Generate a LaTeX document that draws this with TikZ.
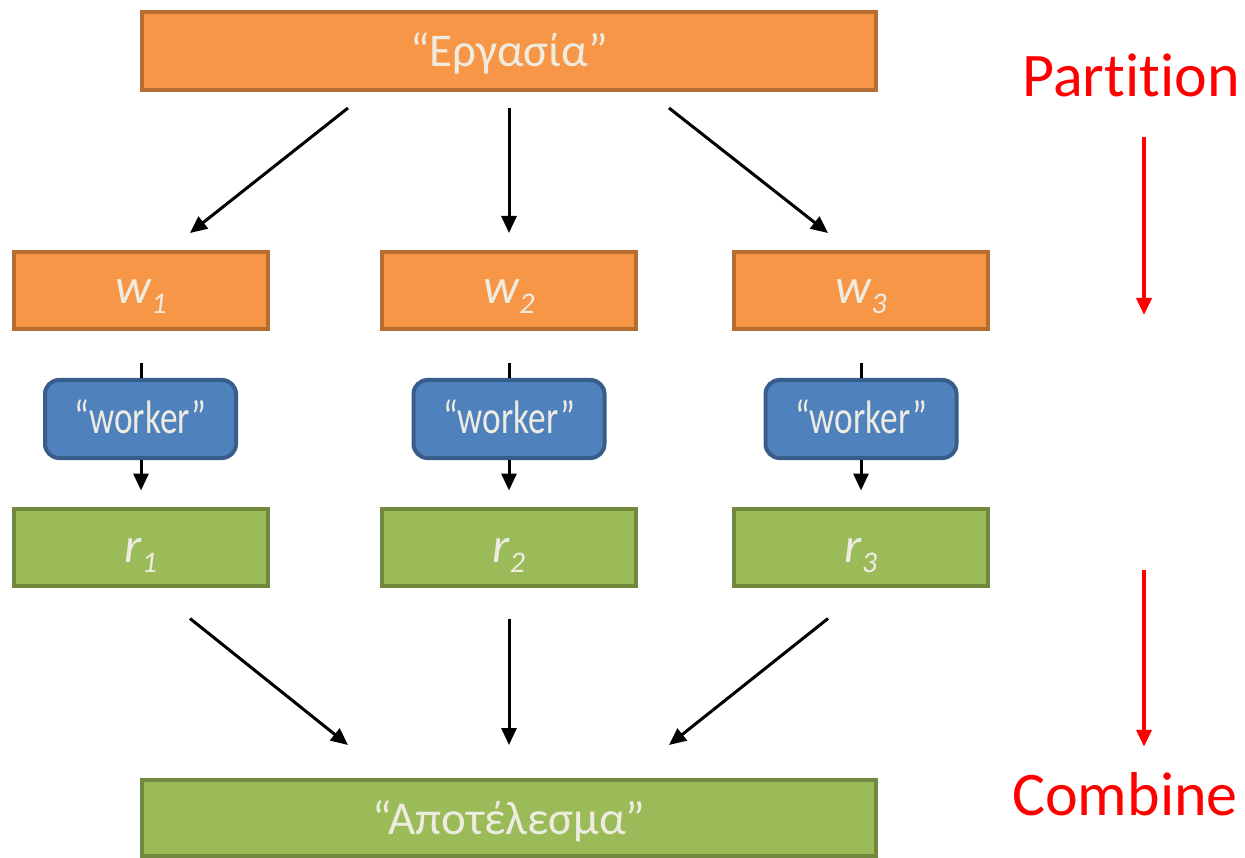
\documentclass[tikz,border=0pt]{standalone}
\usepackage{fontspec}
\setmainfont{Carlito}[Ligatures={NoCommon}]
\usetikzlibrary{arrows.meta}
\definecolor{orfill}{HTML}{F79646}
\definecolor{ordraw}{HTML}{B66D31}
\definecolor{blfill}{HTML}{4F81BD}
\definecolor{bldraw}{HTML}{385D8A}
\definecolor{grfill}{HTML}{9BBB59}
\definecolor{grdraw}{HTML}{71893F}
\definecolor{txt}{HTML}{EEECE1}
\definecolor{redc}{HTML}{FF0000}
\newcommand{\idx}[3]{{\itshape #1\raisebox{-#3}{\fontsize{30}{30}\selectfont\itshape #2}}}
\tikzset{
  box/.style={draw, line width=4pt, text=txt, inner sep=0pt, minimum width=254pt, minimum height=77pt},
  obox/.style={box, fill=orfill, draw=ordraw},
  gbox/.style={box, fill=grfill, draw=grdraw},
  wbox/.style={box, fill=blfill, draw=bldraw, rounded corners=14pt, minimum width=191pt, minimum height=78pt,
     text height=30pt, text depth=0pt},
  wide/.style={minimum width=734pt, minimum height=78pt},
  big/.style={font=\fontsize{50}{50}\selectfont, text depth=0pt},
  wk/.style={font=\fontsize{47}{47}\selectfont},
  gr/.style={font=\fontsize{47}{47}\selectfont, text depth=0pt},
  arr/.style={line width=3pt, -{Triangle[length=17pt,width=15pt]}},
  rarr/.style={line width=3.8pt, draw=redc, -{Triangle[length=17pt,width=15pt]}},
  lbl/.style={text=redc, inner sep=0pt, font=\fontsize{62}{62}\selectfont}
}
\begin{document}
\begin{tikzpicture}[x=1pt,y=-1pt]
\useasboundingbox (0,0) rectangle (1245,858);
% top and bottom
\node[obox, wide, gr, text height=32pt] (top) at (509,51) {“Εργασία”};
\node[gbox, wide, gr, minimum height=76pt, text height=32pt] (bot) at (509,818) {“Αποτέλεσμα”};
% w boxes
\node[obox, big, text height=26pt] (w1) at (141,290.5) {\idx{w}{1}{10pt}};
\node[obox, big, text height=26pt] (w2) at (509,290.5) {\idx{w}{2}{10pt}};
\node[obox, big, text height=26pt] (w3) at (861,290.5) {\idx{w}{3}{10pt}};
% worker boxes
\node[wbox, wk] (k1) at (140.5,419) {\scalebox{0.75}[1]{“worker”}};
\node[wbox, wk] (k2) at (509,419) {\scalebox{0.75}[1]{“worker”}};
\node[wbox, wk] (k3) at (861,419) {\scalebox{0.75}[1]{“worker”}};
% r boxes
\node[gbox, big, text height=30pt] (r1) at (141,547) {\idx{r}{1}{10pt}};
\node[gbox, big, text height=30pt] (r2) at (509,547) {\idx{r}{2}{10pt}};
\node[gbox, big, text height=30pt] (r3) at (861,547) {\idx{r}{3}{10pt}};
% top arrows
\draw[arr] ([xshift=-161pt,yshift=-16pt]top.south) -- ([xshift=49pt,yshift=17pt]w1.north);
\draw[arr] ([yshift=-16pt]top.south) -- ([yshift=17pt]w2.north);
\draw[arr] ([xshift=160pt,yshift=-16pt]top.south) -- ([xshift=-33pt,yshift=17pt]w3.north);
% w to worker
\foreach \i in {1,2,3}{
  \draw[line width=3pt] ([yshift=-32pt]w\i.south) -- (w\i.south |- k\i.north);
  \draw[arr] (w\i.south |- k\i.south) -- ([yshift=16pt]r\i.north);
}
% bottom arrows
\draw[arr] ([xshift=49pt,yshift=-31pt]r1.south) -- ([xshift=-161pt,yshift=33pt]bot.north);
\draw[arr] ([yshift=-31pt]r2.south) -- ([yshift=33pt]bot.north);
\draw[arr] ([xshift=-33pt,yshift=-31pt]r3.south) -- ([xshift=160pt,yshift=33pt]bot.north);
% red labels
\node[lbl, anchor=base] (part) at (1131,97) {Partition};
\node[lbl, anchor=base] (comb) at (1125,815) {Combine};
\coordinate (pend) at (1144,315);
\coordinate (cstart) at (1144,570);
\draw[rarr] ([yshift=-39pt]part.south -| pend) -- (pend);
\draw[rarr] (cstart) -- ([yshift=25pt]comb.north -| cstart);
\end{tikzpicture}
\end{document}
